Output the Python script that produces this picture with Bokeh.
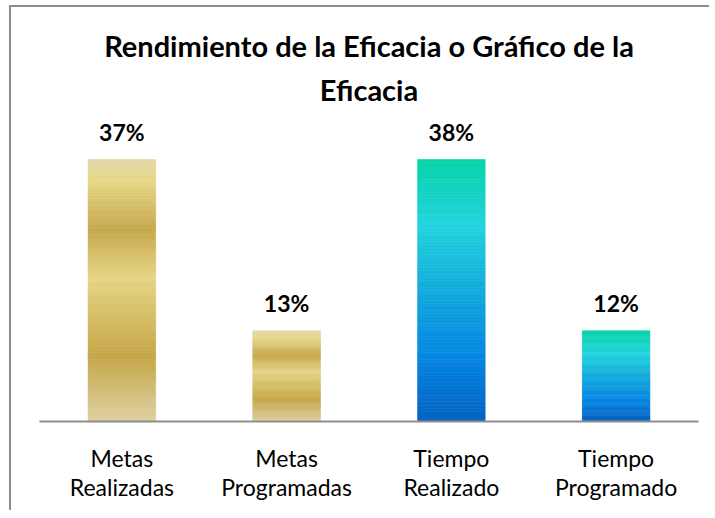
from bokeh.plotting import figure
from bokeh.models import FactorRange, ColumnDataSource, Title
from bokeh.core.properties import value
from bokeh.embed import file_html
from bokeh.resources import INLINE

# ---- data ----
categories = ["Metas\nRealizadas", "Metas\nProgramadas", "Tiempo\nRealizado", "Tiempo\nProgramado"]
values = [0.375, 0.13, 0.375, 0.13]           # bar heights (as drawn)
value_labels = ["37%", "13%", "38%", "12%"]    # data labels as printed
title_lines = ["Rendimiento de la Eficacia o Gráfico de la", "Eficacia"]

# ---- gradient styles (fraction from bottom, color) ----
gold = [(0.0, "#DED1A2"), (0.25, "#C5A648"), (0.55, "#E6D585"), (0.73, "#C6A84C"),
        (0.92, "#E5D688"), (1.0, "#E3D9A8")]
blue = [(0.0, "#0360C0"), (0.25, "#0587E3"), (0.5, "#12AADB"), (0.75, "#22D3DE"),
        (1.0, "#06D3A8")]
bar_gradients = [gold, gold, blue, blue]


def hex2rgb(h):
    h = h.lstrip("#")
    return tuple(int(h[i:i + 2], 16) for i in (0, 2, 4))


def interp(stops, f):
    for (f0, c0), (f1, c1) in zip(stops[:-1], stops[1:]):
        if f0 <= f <= f1:
            t = (f - f0) / (f1 - f0) if f1 > f0 else 0
            a, b = hex2rgb(c0), hex2rgb(c1)
            r = [round(a[i] + (b[i] - a[i]) * t) for i in range(3)]
            return "#%02x%02x%02x" % tuple(r)
    return stops[-1][1]


N = 80
xs, bottoms, tops, colors = [], [], [], []
for cat, v, stops in zip(categories, values, bar_gradients):
    for k in range(N):
        xs.append(cat)
        bottoms.append(v * k / N)
        tops.append(v * (k + 1) / N)
        colors.append(interp(stops, (k + 0.5) / N))

seg = ColumnDataSource(dict(x=xs, bottom=bottoms, top=tops, color=colors))

# canvas origin sits at page (11, 7) because of the CSS margin + border below
W, H = 700, 505
frame_top = 106
frame_bottom = 414
px_per_unit = (frame_bottom - 152) / max(values)
y_end = (frame_bottom - frame_top) / px_per_unit

p = figure(x_range=FactorRange(*categories, range_padding=0), y_range=(0, y_end),
           width=W, height=H, output_backend="svg", toolbar_location=None,
           min_border_left=28, min_border_right=13, min_border_top=frame_top,
           min_border_bottom=H - frame_bottom)

p.vbar(x="x", bottom="bottom", top="top", width=0.41, source=seg,
       fill_color="color", line_color="color", line_width=0.6)

lab = ColumnDataSource(dict(x=categories, y=values, t=value_labels))
p.text(x="x", y="y", text="t", source=lab, y_offset=-28,
       text_align="center", text_baseline="alphabetic",
       text_font=value("Lato"), text_font_style="bold", text_font_size="23px",
       text_color="#000000")

# title: two centred lines (the added Title sits closest to the plot)
title_style = dict(text_font="Lato", text_font_style="bold",
                   text_font_size="29px", text_color="#000000")
p.title.text = title_lines[0]
p.title.align = "center"
for k, v in title_style.items():
    setattr(p.title, k, v)
p.title.standoff = 0
p.add_layout(Title(text=title_lines[1], align="center", standoff=14, **title_style), "above")

p.yaxis.visible = False
p.xgrid.grid_line_color = None
p.ygrid.grid_line_color = None
p.outline_line_color = None

ax = p.xaxis[0]
ax.axis_line_color = "#8E8E8E"
ax.axis_line_width = 2
ax.major_tick_line_color = None
ax.minor_tick_line_color = None
ax.major_label_text_font = "Lato"
ax.major_label_text_font_size = "23px"
ax.major_label_text_color = "#000000"
ax.major_label_text_line_height = 1.05
ax.major_label_standoff = 16

p.styles = {"margin-left": "9px", "margin-top": "5px",
            "border-left": "2px solid #8C8C8C", "border-top": "2px solid #8C8C8C"}

open("out.html", "w").write(file_html(p, INLINE))
